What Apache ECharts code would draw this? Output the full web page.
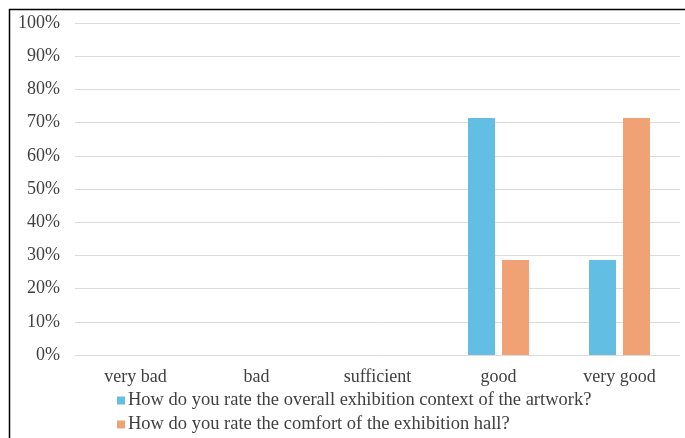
<!DOCTYPE html>
<html>
<head>
<meta charset="utf-8">
<script src="https://cdn.jsdelivr.net/npm/echarts@6/dist/echarts.min.js"></script>
<style>
  html, body { margin: 0; padding: 0; background: #fff; }
  #chart { width: 685px; height: 438px; }
</style>
</head>
<body>
<div id="chart"></div>
<script>
// Rating scale on the x axis
const categories = ['very bad', 'bad', 'sufficient', 'good', 'very good'];
// Share of answers per rating, in percent
const contextValues = [0, 0, 0, 71.4, 28.6];
const comfortValues = [0, 0, 0, 28.6, 71.4];
const seriesNames = [
  'How do you rate the overall exhibition context of the artwork?',
  'How do you rate the comfort of the exhibition hall?'
];

const font = 'Liberation Serif';
const labelColor = '#404040';
const chart = echarts.init(document.getElementById('chart'));

// One legend block per row, stacked under the axis
const legendRow = (name, top) => ({
  left: 117,
  top: top,
  itemWidth: 8,
  itemHeight: 8,
  icon: 'rect',
  padding: 0,
  textStyle: { color: labelColor, fontSize: 18.5, fontFamily: font, padding: [0, 0, 0, -2] },
  data: [name]
});

chart.setOption({
  backgroundColor: '#fff',
  animation: false,
  textStyle: { fontFamily: font },
  grid: { left: 75, right: 5, top: 23, bottom: 83, containLabel: false },
  xAxis: {
    type: 'category',
    data: categories,
    axisLine: { lineStyle: { color: '#dcdcdc', width: 1 } },
    axisTick: { show: false },
    axisLabel: { color: labelColor, fontSize: 18, fontFamily: font, margin: 13 }
  },
  yAxis: {
    type: 'value',
    min: 0,
    max: 100,
    interval: 10,
    axisLine: { show: false },
    axisTick: { show: false },
    splitLine: { lineStyle: { color: '#dcdcdc', width: 1 } },
    axisLabel: { color: labelColor, fontSize: 18, fontFamily: font, margin: 15, formatter: '{value}%' }
  },
  legend: [
    legendRow(seriesNames[0], 391),
    legendRow(seriesNames[1], 415)
  ],
  series: [
    {
      name: seriesNames[0],
      type: 'bar',
      data: contextValues,
      barWidth: 27,
      barGap: '26%',
      itemStyle: { color: '#62bee3' }
    },
    {
      name: seriesNames[1],
      type: 'bar',
      data: comfortValues,
      barWidth: 27,
      itemStyle: { color: '#f0a275' }
    }
  ],
  graphic: [
    { type: 'line', shape: { x1: 9, y1: 9.5, x2: 685, y2: 9.5 }, style: { stroke: '#000', lineWidth: 1.5 } },
    { type: 'line', shape: { x1: 9.5, y1: 9, x2: 9.5, y2: 438 }, style: { stroke: '#000', lineWidth: 1.5 } }
  ]
});
</script>
</body>
</html>
